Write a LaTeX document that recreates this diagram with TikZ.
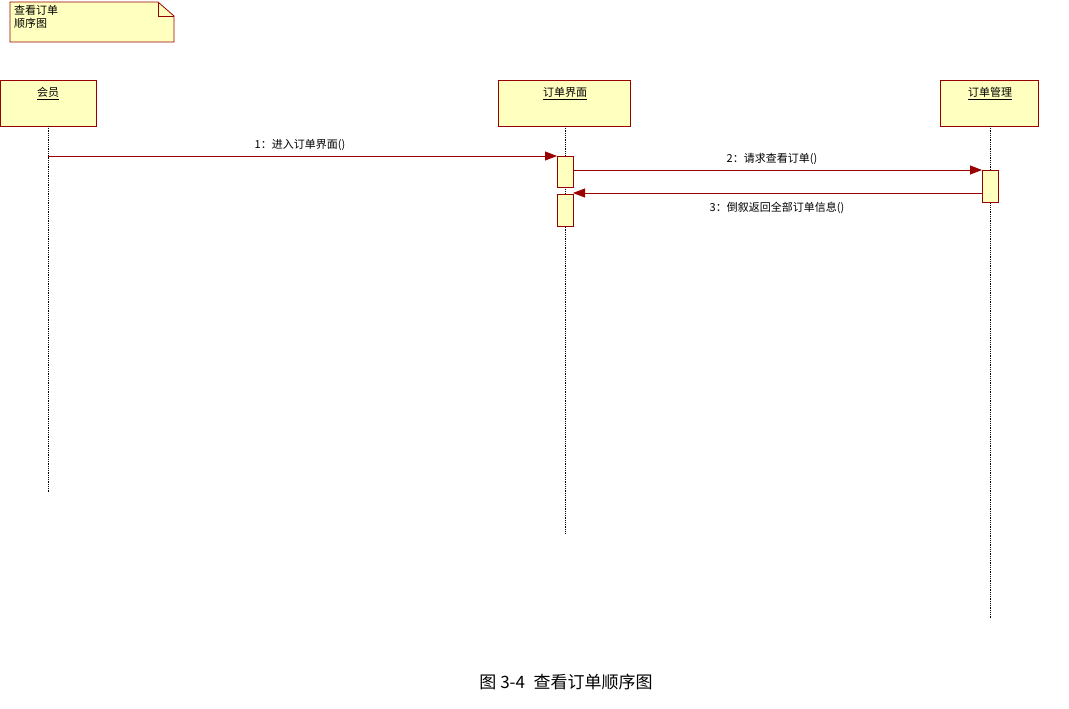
\documentclass[tikz,border=0pt]{standalone}
\usepackage{fontspec}
\newfontfamily\cjk{Noto Sans CJK SC}
\usetikzlibrary{arrows.meta}
\definecolor{umlred}{HTML}{990000}
\definecolor{umlfill}{HTML}{FFFFC0}
\begin{document}
\begin{tikzpicture}[x=1pt,y=-1pt,
  obj/.style={draw=umlred,fill=umlfill,line width=0.8pt},
  life/.style={densely dotted,line width=0.8pt},
  msg/.style={draw=umlred,line width=0.8pt,-{Triangle[length=12pt,width=9pt]}},
  lbl/.style={font=\cjk\fontsize{11}{13}\selectfont}]
\useasboundingbox (0,0) rectangle (1069,709);
% note
\draw[obj] (10,2) -- (158,2) -- (174,16) -- (174,42) -- (10,42) -- cycle;
\draw[umlred,line width=0.8pt] (158,2) -- (158,16) -- (174,16);
\node[lbl,anchor=north west,align=left,inner sep=0pt] (note) at (14,5) {查看订单\\顺序图};
% objects
\draw[obj] (0,80) rectangle (96,126);
\node[lbl,anchor=north] (a) at (48,84) {\underline{会员}};
\draw[obj] (498,80) rectangle (630,126);
\node[lbl,anchor=north] (b) at (565,84) {\underline{订单界面}};
\draw[obj] (940,80) rectangle (1038,126);
\node[lbl,anchor=north] (c) at (990,84) {\underline{订单管理}};
% lifelines
\draw[life] (48,126) -- (48,492);
\draw[life] (565,126) -- (565,533);
\draw[life] (990,126) -- (990,618);
% activations
\draw[obj] (557,156) rectangle (573,187);
\draw[obj] (557,194) rectangle (573,226);
\draw[obj] (982,170) rectangle (998,202);
\coordinate (m1s) at (48,156); \coordinate (m1e) at (557,156);
\coordinate (m2s) at (573,170); \coordinate (m2e) at (982,170);
\coordinate (m3s) at (982,193); \coordinate (m3e) at (573,193);
\draw[msg] (m1s) -- (m1e);
\draw[msg] (m2s) -- (m2e);
\draw[msg] (m3s) -- (m3e);
\node[lbl] (l1) at (300,145) {1：进入订单界面()};
\node[lbl] (l2) at (772,159) {2：请求查看订单()};
\node[lbl] (l3) at (777,208) {3：倒叙返回全部订单信息()};
\node[font=\cjk\fontsize{17}{20}\selectfont] (cap) at (566,682) {图 3-4\enspace 查看订单顺序图};
\end{tikzpicture}
\end{document}
